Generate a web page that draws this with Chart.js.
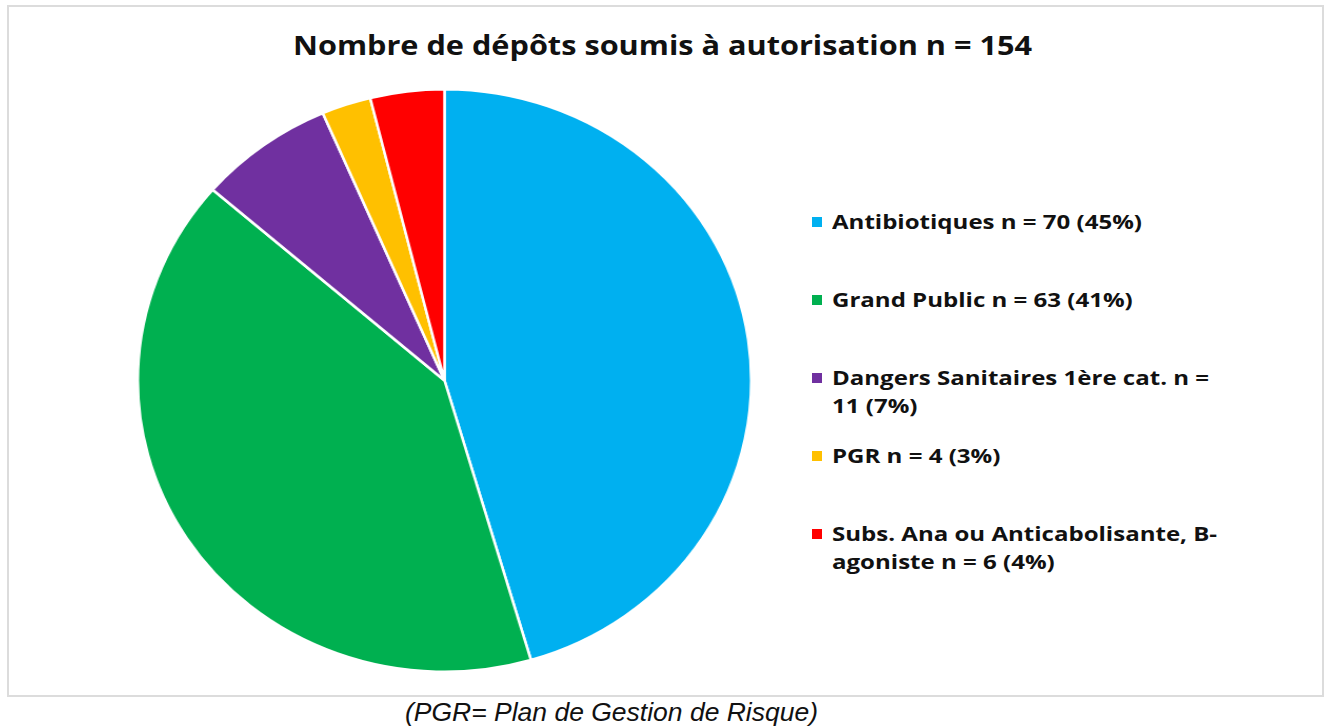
<!DOCTYPE html>
<html>
<head>
<meta charset="utf-8">
<script src="https://cdn.jsdelivr.net/npm/chart.js@4/dist/chart.umd.min.js"></script>
<style>
  body { margin: 0; background: #fff; width: 1330px; height: 728px; position: relative; overflow: hidden; }
  #frame { position: absolute; left: 7px; top: 5px; width: 1313px; height: 688px; border: 2px solid #dcdcdc; }
  #title { position: absolute; left: 293px; top: 27px; white-space: nowrap; transform-origin: 0 0;
    font: bold 26px "Open Sans", sans-serif; line-height: 36px; color: #111; }
  #pieWrap { position: absolute; left: 152px; top: 88px; width: 585px; height: 585px;
    transform: scaleX(1.053); transform-origin: 292.5px 292.5px; }
  #legend { position: absolute; left: 812px; top: 208px; width: 460px; }
  .item { position: relative; height: 78px; }
  .box { position: absolute; left: 0; top: 9px; width: 10px; height: 10px; }
  .label { position: absolute; left: 20px; top: 0; white-space: nowrap; transform-origin: 0 0;
    font: bold 20px "Open Sans", sans-serif; line-height: 28px; color: #111; }
  #caption { position: absolute; left: 405px; top: 697px; white-space: nowrap; transform-origin: 0 0;
    font: italic 26px "Liberation Sans", Arial, sans-serif; line-height: 30px; color: #111; }
</style>
</head>
<body>
<div id="frame"></div>
<div id="title">Nombre de dépôts soumis à autorisation n = 154</div>
<div id="pieWrap"><canvas id="pie" width="585" height="585"></canvas></div>
<div id="legend"></div>
<div id="caption">(PGR= Plan de Gestion de Risque)</div>
<script>
const categories = [
  "Antibiotiques",
  "Grand Public",
  "Dangers Sanitaires 1ère cat.",
  "PGR",
  "Subs. Ana ou Anticabolisante, B-agoniste"
];
const counts = [70, 63, 11, 4, 6];
const colors = ["#00B0F0", "#00B050", "#7030A0", "#FFC000", "#FF0000"];
// where the legend text wraps in the original
const wrapAfter = [null, null, "cat. n =", null, "B-"];

const total = counts.reduce((a, b) => a + b, 0);

// squeeze/stretch a line of text to the width it has in the original
function fitWidth(el, target) {
  const w = el.getBoundingClientRect().width;
  const s = target / w;
  el.style.transform = `scaleX(${s})`;
  return s;
}

const legend = document.getElementById("legend");
const labels = [];
categories.forEach((name, i) => {
  const pct = Math.round((counts[i] / total) * 100);
  const text = `${name} n = ${counts[i]} (${pct}%)`;
  const item = document.createElement("div");
  item.className = "item";
  const box = document.createElement("span");
  box.className = "box";
  box.style.background = colors[i];
  item.appendChild(box);
  const label = document.createElement("span");
  label.className = "label";
  if (wrapAfter[i]) {
    const k = text.indexOf(wrapAfter[i]) + wrapAfter[i].length;
    label.appendChild(document.createTextNode(text.slice(0, k)));
    label.appendChild(document.createElement("br"));
    label.appendChild(document.createTextNode(text.slice(k).trim()));
  } else {
    label.textContent = text;
  }
  item.appendChild(label);
  legend.appendChild(item);
  labels.push(label);
});

fitWidth(document.getElementById("title"), 739);
fitWidth(document.getElementById("caption"), 413);
const s = fitWidth(labels[0], 310);
labels.forEach((l) => (l.style.transform = `scaleX(${s})`));

new Chart(document.getElementById("pie"), {
  type: "pie",
  data: {
    labels: categories,
    datasets: [{
      data: counts,
      backgroundColor: colors,
      borderColor: "#ffffff",
      borderWidth: 2.5,
      hoverOffset: 0
    }]
  },
  options: {
    responsive: false,
    animation: false,
    layout: { padding: 0 },
    plugins: {
      legend: { display: false },
      title: { display: false },
      tooltip: { enabled: false }
    }
  }
});
</script>
</body>
</html>
